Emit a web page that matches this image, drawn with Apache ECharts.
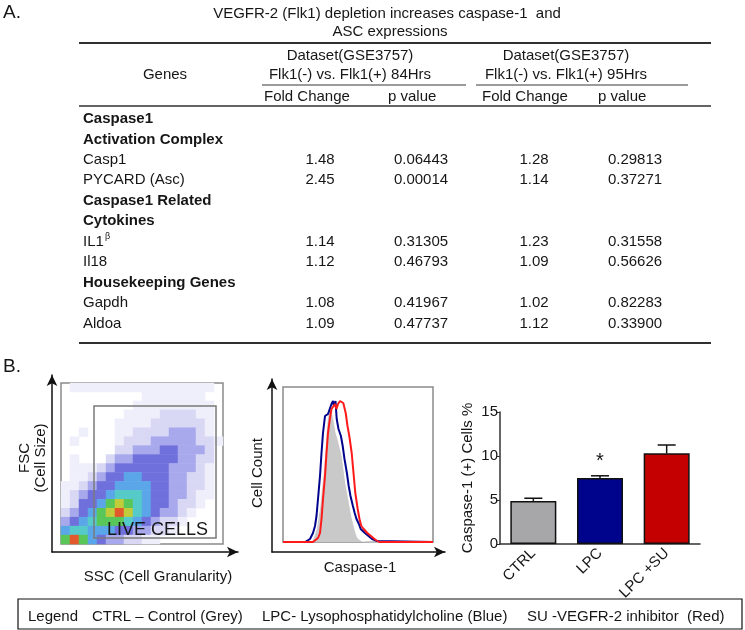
<!DOCTYPE html>
<html><head><meta charset="utf-8">
<script src="https://cdn.jsdelivr.net/npm/echarts@6/dist/echarts.min.js"></script>
<style>html,body{margin:0;padding:0;background:#fff}#c{width:745px;height:630px}</style>
</head><body><div id="c"></div>
<script>
// ---------- DATA ----------
const titleLines = ['VEGFR-2 (Flk1) depletion increases caspase-1  and', 'ASC expressions'];
const datasetLabels = ['Dataset(GSE3757)', 'Dataset(GSE3757)'];
const comparisonLabels = ['Flk1(-) vs. Flk1(+) 84Hrs', 'Flk1(-) vs. Flk1(+) 95Hrs'];
const columnLabels = ['Fold Change', 'p value', 'Fold Change', 'p value'];
const rowLabels = ['Caspase1', 'Activation Complex', 'Casp1', 'PYCARD (Asc)', 'Caspase1 Related', 'Cytokines', 'IL1', 'Il18', 'Housekeeping Genes', 'Gapdh', 'Aldoa'];
const rowSuperscripts = ['', '', '', '', '', '', 'β', '', '', '', ''];
const rowIsGroup = [true, true, false, false, true, true, false, false, true, false, false];
const fold84 = ['', '', '1.48', '2.45', '', '', '1.14', '1.12', '', '1.08', '1.09'];
const pval84 = ['', '', '0.06443', '0.00014', '', '', '0.31305', '0.46793', '', '0.41967', '0.47737'];
const fold95 = ['', '', '1.28', '1.14', '', '', '1.23', '1.09', '', '1.02', '1.12'];
const pval95 = ['', '', '0.29813', '0.37271', '', '', '0.31558', '0.56626', '', '0.82283', '0.33900'];

// flow cytometry density (rows top -> bottom, columns left -> right, 0 = empty ... 9 = densest)
const densityRows = [
  '011111111111111110',
  '000000000111111100',
  '000000001111111110',
  '000000011112222110',
  '000000111122222210',
  '001000112222333210',
  '010000122233333221',
  '000000223334433320',
  '010002334444433220',
  '011123444444333210',
  '011234455444332210',
  '112344555544332210',
  '123445666544332110',
  '124457876544322100',
  '234578986543321000',
  '345677765432210000',
  '566555443322100000',
  '797543322110000000'
];

// histogram (x = channel, y = count)
const histCtrl = [[0,0],[28.5,0],[30,3],[33.5,13],[37,36],[40,66],[42,89],[43.5,113],[45,129],[47,138],[48.8,136],[50.6,123],[53,109],[54.8,103],[56.6,96],[59,86],[60.8,73],[62.6,59],[65,46],[66.8,36],[68.6,26],[71,16],[72.8,9],[74.6,4],[78.8,1],[83,0],[150,0]];
const histLPC = [[0,0],[22,0],[23.5,1],[27,3],[30,9],[32,16],[33.5,26],[35,43],[37,66],[38.5,89],[40,109],[42,126],[43.5,128],[45,128],[47,129],[48.5,138],[50,141],[51,136],[52.5,141],[53.7,123],[55.5,113],[57.9,106],[59.7,96],[61.5,83],[63.9,69],[65.7,56],[67.5,46],[69.9,36],[71.7,29],[73.5,23],[75.9,18],[77.7,13],[81.9,9],[85.5,6],[89.1,3],[93.9,1],[95.7,0],[150,0]];
const histSU = [[0,0],[30,0],[32,1],[35,4],[37,9],[38.5,23],[40,43],[42,66],[43.5,89],[45,109],[47,124],[48.5,133],[50,135],[52,138],[53.5,133],[55,138],[57,141],[58.5,143],[60.3,139],[62.7,129],[64.5,116],[66.3,106],[68.7,89],[70.5,69],[72.3,49],[74.7,33],[76.5,23],[78.3,16],[80.7,13],[84.3,9],[87.9,6],[92.7,2],[96.3,0],[150,0]];

// bar chart
const barCategories = ['CTRL', 'LPC', 'LPC +SU'];
const barValues = [4.9, 7.5, 10.3];
const barErrors = [0.3, 0.25, 0.95];
const barSignificance = ['', '*', ''];
const barTicks = [0, 5, 10, 15];

const legendItems = ['Legend', 'CTRL – Control (Grey)', 'LPC- Lysophosphatidylcholine (Blue)', 'SU -VEGFR-2 inhibitor  (Red)'];

// ---------- STYLE ----------
const FONT = '"Liberation Sans", Arial, sans-serif';
const INK = '#161616';
const barColors = ['#a7a7a9', '#00048c', '#c40000'];
const densityColors = ['rgba(0,0,0,0)', '#efeffb', '#d8d8f5', '#a8a8ec', '#7070dc', '#5aa6e8', '#56cac8', '#58c658', '#c0cc3a', '#e25a2c'];

const g = [];
function txt(s, x, y, o) {
  o = o || {};
  g.push({type: 'text', x: x, y: y, rotation: o.rot || 0, z: 100,
    style: {text: s, fill: o.color || INK, fontSize: o.size || 15, fontFamily: FONT,
      fontWeight: o.bold ? 'bold' : 'normal', align: o.align || 'left', textAlign: o.align || 'left',
      verticalAlign: 'middle', textVerticalAlign: 'middle'}});
}
function hline(x1, x2, y, w, c) {
  g.push({type: 'line', z: 100, shape: {x1: x1, y1: y, x2: x2, y2: y}, style: {stroke: c, lineWidth: w}});
}
function rect(x, y, w, h, c, lw) {
  g.push({type: 'rect', z: 100, shape: {x: x, y: y, width: w, height: h}, style: {fill: 'none', stroke: c, lineWidth: lw}});
}

// ----- Panel A : table -----
txt('A.', 3, 13, {size: 19});
txt(titleLines[0], 387, 14, {align: 'center'});
txt(titleLines[1], 390, 32, {align: 'center'});
hline(79, 711, 43, 2, '#303030');
const dsCenters = [350, 566];
datasetLabels.forEach((s, i) => txt(s, dsCenters[i], 56, {align: 'center'}));
txt('Genes', 165, 75, {align: 'center'});
comparisonLabels.forEach((s, i) => txt(s, dsCenters[i], 75, {align: 'center'}));
hline(262, 466, 85, 1.5, '#7a7a7a');
hline(476, 688, 85, 1.5, '#7a7a7a');
const colLeft = [264, 388, 482, 598];
columnLabels.forEach((s, i) => txt(s, colLeft[i], 97));
hline(79, 711, 106, 1.5, '#303030');
const valCenters = [320, 421, 534, 635];
const valueCols = [fold84, pval84, fold95, pval95];
rowLabels.forEach((s, i) => {
  const y = 119 + i * 20.45;
  txt(s, 83, y, {bold: rowIsGroup[i]});
  if (rowSuperscripts[i]) txt(rowSuperscripts[i], 105, y - 5, {size: 9});
  valueCols.forEach((col, j) => { if (col[i]) txt(col[i], valCenters[j], y, {align: 'center'}); });
});
hline(79, 711, 343, 2, '#303030');

// ----- Panel B -----
txt('B.', 3, 367, {size: 19});
txt('FSC', 25, 458, {align: 'center', rot: Math.PI / 2});
txt('(Cell Size)', 41, 458, {align: 'center', rot: Math.PI / 2});
txt('SSC (Cell Granularity)', 158, 577, {align: 'center'});
rect(94, 406, 122, 132, '#7a7a7a', 1.5);
txt('LIVE CELLS', 107, 530, {size: 18});
txt('Cell Count', 258, 473, {align: 'center', rot: Math.PI / 2});
txt('Caspase-1', 360, 568, {align: 'center'});

// legend box
rect(18, 599, 724, 30, '#111', 1.2);
const legendX = [28, 92, 262, 527];
legendItems.forEach((s, i) => txt(s, legendX[i], 617));

// heatmap data
const nCols = densityRows[0].length, nRows = densityRows.length;
const heatData = [];
densityRows.forEach((row, r) => {
  for (let c = 0; c < nCols; c++) {
    const v = +row[c];
    if (v > 0) heatData.push([c, nRows - 1 - r, v]);
  }
});
const colCats = Array.from({length: nCols}, (_, i) => String(i));
const rowCats = Array.from({length: nRows}, (_, i) => String(i));

const arrowAxis = {
  type: 'value', min: 0, max: 1,
  axisLine: {show: true, symbol: ['none', 'arrow'], symbolSize: [8, 11], lineStyle: {color: '#111', width: 1.5}},
  axisTick: {show: false}, axisLabel: {show: false}, splitLine: {show: false}
};

const chart = echarts.init(document.getElementById('c'), null, {renderer: 'canvas'});
chart.setOption({
  animation: false,
  backgroundColor: '#fff',
  graphic: {elements: g},
  grid: [
    {left: 61, top: 383, width: 162, height: 161, show: true, borderColor: '#8a8a8a', borderWidth: 1.5},
    {left: 52, top: 375, width: 186, height: 177},
    {left: 283, top: 387, width: 150, height: 155, show: true, borderColor: '#8a8a8a', borderWidth: 1.5},
    {left: 272, top: 379, width: 173, height: 173},
    {left: 500, top: 412, width: 200, height: 132}
  ],
  xAxis: [
    {gridIndex: 0, type: 'category', data: colCats, show: false},
    Object.assign({gridIndex: 1}, arrowAxis),
    {gridIndex: 2, type: 'value', min: 0, max: 150, show: false},
    Object.assign({gridIndex: 3}, arrowAxis),
    {gridIndex: 4, type: 'category', data: barCategories,
      axisLine: {lineStyle: {color: '#333', width: 1.5}}, axisTick: {show: false},
      axisLabel: {rotate: 45, fontSize: 15, color: INK, fontFamily: FONT, margin: 7}}
  ],
  yAxis: [
    {gridIndex: 0, type: 'category', data: rowCats, show: false},
    Object.assign({gridIndex: 1}, arrowAxis),
    {gridIndex: 2, type: 'value', min: 0, max: 155, show: false},
    Object.assign({gridIndex: 3}, arrowAxis),
    {gridIndex: 4, type: 'value', min: barTicks[0], max: barTicks[barTicks.length - 1], interval: 5,
      name: 'Caspase-1 (+) Cells %', nameLocation: 'middle', nameGap: 25, nameRotate: 90,
      nameTextStyle: {fontSize: 15, color: INK, fontFamily: FONT},
      axisLine: {show: true, lineStyle: {color: '#333', width: 1.5}},
      axisTick: {show: true, length: 3, lineStyle: {color: '#333'}},
      axisLabel: {fontSize: 15, color: INK, fontFamily: FONT, margin: 2},
      splitLine: {show: false}}
  ],
  visualMap: {type: 'piecewise', show: false, seriesIndex: 0, dimension: 2,
    pieces: densityColors.map((c, i) => ({value: i, color: c}))},
  series: [
    {type: 'heatmap', xAxisIndex: 0, yAxisIndex: 0, data: heatData, itemStyle: {borderWidth: 0}, emphasis: {disabled: true}},
    {type: 'line', xAxisIndex: 2, yAxisIndex: 2, data: histCtrl, showSymbol: false, z: 2,
      lineStyle: {width: 0.8, color: '#ffffff'}, areaStyle: {color: '#c9c9c9', opacity: 1}},
    {type: 'line', xAxisIndex: 2, yAxisIndex: 2, data: histLPC, showSymbol: false, z: 3,
      lineStyle: {width: 2, color: '#00048c'}},
    {type: 'line', xAxisIndex: 2, yAxisIndex: 2, data: histSU, showSymbol: false, z: 4,
      lineStyle: {width: 2, color: '#ff1a1a'}},
    {type: 'bar', xAxisIndex: 4, yAxisIndex: 4, barWidth: 46,
      data: barValues.map((v, i) => ({value: v, itemStyle: {color: barColors[i], borderColor: '#111', borderWidth: 1.5},
        label: {show: !!barSignificance[i], formatter: barSignificance[i], position: 'top', distance: 7, fontSize: 20, color: INK, fontFamily: FONT}}))},
    {type: 'custom', xAxisIndex: 4, yAxisIndex: 4, z: 5,
      data: barValues.map((v, i) => [i, v, barErrors[i]]),
      renderItem: function (params, api) {
        const base = api.coord([api.value(0), api.value(1)]);
        const top = api.coord([api.value(0), api.value(1) + api.value(2)]);
        const hw = 9;
        return {type: 'group', children: [
          {type: 'line', shape: {x1: base[0], y1: base[1], x2: top[0], y2: top[1]}, style: {stroke: '#111', lineWidth: 1.5}},
          {type: 'line', shape: {x1: top[0] - hw, y1: top[1], x2: top[0] + hw, y2: top[1]}, style: {stroke: '#111', lineWidth: 1.5}}
        ]};
      }}
  ]
});
</script></body></html>
